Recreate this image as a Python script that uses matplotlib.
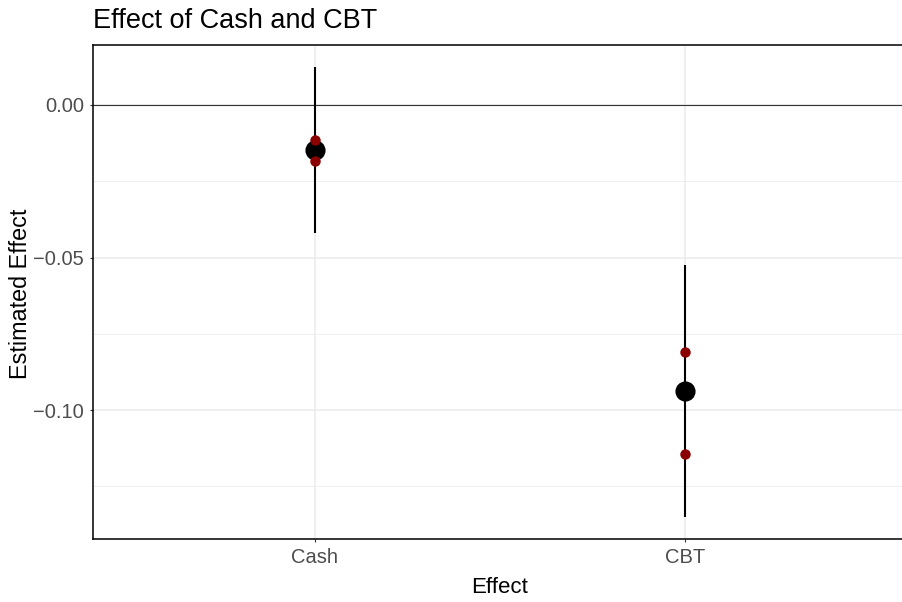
import matplotlib
matplotlib.use('Agg')
import matplotlib.pyplot as plt
import numpy as np

plt.rcParams['font.family'] = ['Liberation Sans', 'DejaVu Sans']

# Data
effects = ['Cash', 'CBT']
estimate = [-0.0147, -0.0938]
ci_low = [-0.0418, -0.1349]
ci_high = [0.0123, -0.0524]
alt_upper = [-0.0116, -0.0810]
alt_lower = [-0.0185, -0.1143]

W, H = 902, 602
fig = plt.figure(figsize=(W / 100, H / 100), dpi=100)
left, right, top, bottom = 93, 907, 45, 539
ax = fig.add_axes([left / W, 1 - bottom / H, (right - left) / W, (bottom - top) / H])

x = np.arange(len(effects))

# grid
ax.set_axisbelow(True)
ax.grid(True, which='major', color='#EBEBEB', linewidth=1.1)
ax.grid(True, which='minor', axis='y', color='#EBEBEB', linewidth=0.55)
ax.axhline(0, color='#333333', linewidth=0.8, zorder=1)

# error bars
ax.vlines(x, ci_low, ci_high, color='black', linewidth=1.5, zorder=2)
ax.plot(x, estimate, 'o', color='black', markersize=13.5, zorder=3)
ax.plot(x, alt_upper, 'o', color='#8B0000', markersize=6.5, zorder=4)
ax.plot(x, alt_lower, 'o', color='#8B0000', markersize=6.5, zorder=4)

ax.margins(y=0.05)
ax.set_xlim(-0.6, 1.6)
ax.set_xticks(x)
ax.set_xticklabels(effects)
ax.set_yticks([0.0, -0.05, -0.10])
ax.set_yticklabels(['0.00', '\u22120.05', '\u22120.10'])
ax.set_yticks([-0.125, -0.075, -0.025], minor=True)
ax.tick_params(axis='both', which='major', length=2.5, width=0.8, color='#333333',
               labelsize=14.5, labelcolor='#4D4D4D', pad=4,
               right=False, top=False)
ax.tick_params(axis='y', which='minor', length=0)

# panel border: ggplot draws it on all sides, but the right edge falls outside the image
for name in ['left', 'top', 'bottom']:
    ax.spines[name].set_color('black')
    ax.spines[name].set_linewidth(1.1)
ax.spines['right'].set_visible(False)

fig.text(left / W, 1 - 28 / H, 'Effect of Cash and CBT', fontsize=19.5,
         ha='left', va='baseline')
fig.text(500 / W, 1 - 593 / H, 'Effect', fontsize=16, ha='center', va='baseline')
fig.text(21 / W, 1 - 294 / H, 'Estimated Effect', fontsize=16.8, rotation=90,
         ha='center', va='center')

fig.savefig('out.png', dpi=100, facecolor='white')
